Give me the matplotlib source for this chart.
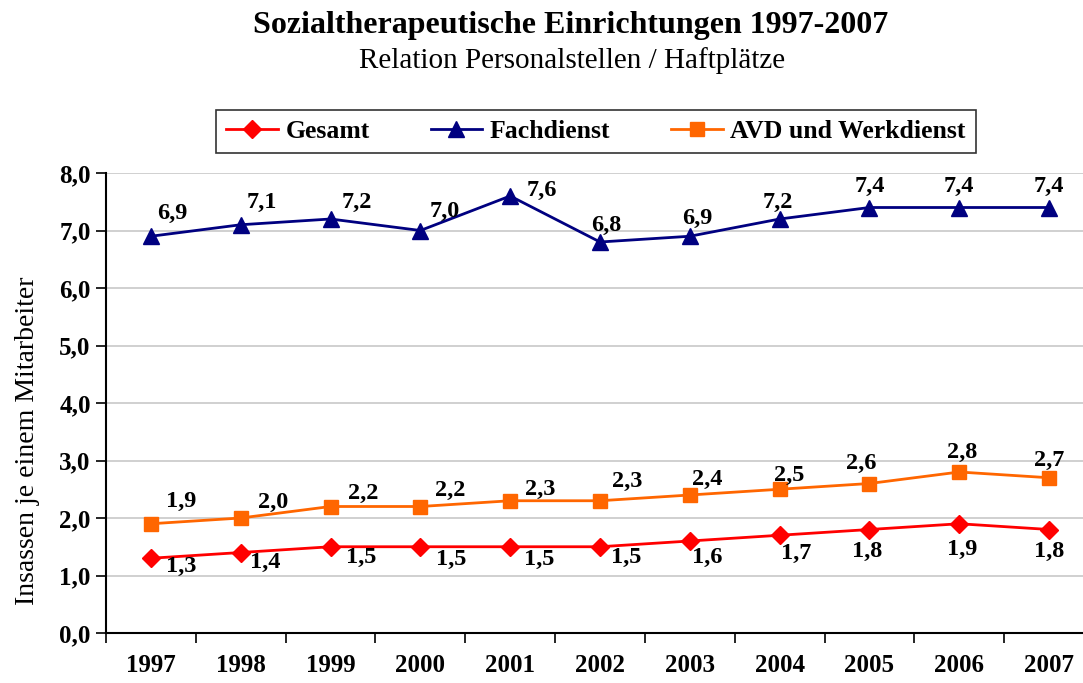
import matplotlib
matplotlib.use("Agg")
import matplotlib.pyplot as plt

years = ["1997", "1998", "1999", "2000", "2001", "2002", "2003", "2004", "2005", "2006", "2007"]
gesamt = [1.3, 1.4, 1.5, 1.5, 1.5, 1.5, 1.6, 1.7, 1.8, 1.9, 1.8]
fachdienst = [6.9, 7.1, 7.2, 7.0, 7.6, 6.8, 6.9, 7.2, 7.4, 7.4, 7.4]
avd = [1.9, 2.0, 2.2, 2.2, 2.3, 2.3, 2.4, 2.5, 2.6, 2.8, 2.7]

# label offsets in pixels (dx, dy) from each point, as placed in the original
fach_off = [(21, 23), (21, 22), (26, 17), (24, 19), (32, 6), (6, 17),
            (7, 18), (-2, 17), (0, 21), (0, 21), (0, 21)]
ges_off = [(30, -8), (25, -10), (31, -11), (31, -13), (29, -13), (26, -11),
           (17, -16), (17, -18), (-2, -22), (3, -26), (0, -22)]
avd_off = [(30, 22), (32, 16), (33, 13), (30, 16), (30, 11), (27, 19),
           (17, 16), (10, 14), (-8, 20), (3, 20), (0, 17)]

plt.rcParams["font.family"] = ["Liberation Serif", "DejaVu Serif"]

fig = plt.figure(figsize=(10.83, 6.83), dpi=100)
ax = fig.add_axes([106 / 1083, 50 / 683, 988 / 1083, 460 / 683])

x = list(range(len(years)))

ax.plot(x, gesamt, color="#FF0000", lw=2, marker="D", ms=9, label="Gesamt")
ax.plot(x, fachdienst, color="#000080", lw=2, marker="^", ms=11, label="Fachdienst")
ax.plot(x, avd, color="#FF6600", lw=2, marker="s", ms=10, label="AVD und Werkdienst")


def fmt(v):
    return f"{v:.1f}".replace(".", ",")


for series, offs in [(fachdienst, fach_off), (gesamt, ges_off), (avd, avd_off)]:
    for i in x:
        ax.annotate(fmt(series[i]), (i, series[i]), xytext=offs[i],
                    textcoords="offset pixels", ha="center", va="center",
                    fontsize=17.5, fontweight="bold")

ax.set_xlim(-0.5, 10.5)
ax.set_ylim(0, 8)
ax.set_yticks(range(0, 9))
ax.set_yticklabels([f"{v},0" for v in range(0, 9)], fontsize=18, fontweight="bold")
ax.set_xticks([i + 0.5 for i in range(-1, 11)])
ax.set_xticklabels([])
ax.set_xticks(x, minor=True)
ax.set_xticklabels(years, minor=True, fontsize=18, fontweight="bold")
ax.tick_params(axis="x", which="minor", length=0, pad=15)
ax.tick_params(axis="x", which="major", length=7, width=1.2, direction="out")
ax.tick_params(axis="y", length=7, width=1.2, direction="out", pad=4)

ax.yaxis.grid(True, color="#C8C8C8", lw=1.2)
ax.set_axisbelow(True)
for s in ["top", "right"]:
    ax.spines[s].set_visible(False)
ax.spines["left"].set_linewidth(1.5)
ax.spines["bottom"].set_linewidth(1.5)

fig.text(28 / 1083, 1 - 441 / 683, "Insassen je einem Mitarbeiter",
         rotation=90, ha="center", va="center", fontsize=20)

fig.text(571 / 1083, 1 - 25 / 683, "Sozialtherapeutische Einrichtungen 1997-2007",
         ha="center", va="center", fontsize=23, fontweight="bold")
fig.text(572 / 1083, 1 - 61 / 683, "Relation Personalstellen / Haftplätze",
         ha="center", va="center", fontsize=21)

leg = fig.legend(loc="center", ncol=3, mode="expand",
                 bbox_to_anchor=(216 / 1083, 1 - 158 / 683, 760 / 1083, 53 / 683),
                 prop={"size": 18.5, "weight": "bold"}, fancybox=False,
                 edgecolor="black", handlelength=2.0, handletextpad=0.3,
                 borderaxespad=0)
leg.get_frame().set_linewidth(1.2)

fig.savefig("out.png", dpi=100)
